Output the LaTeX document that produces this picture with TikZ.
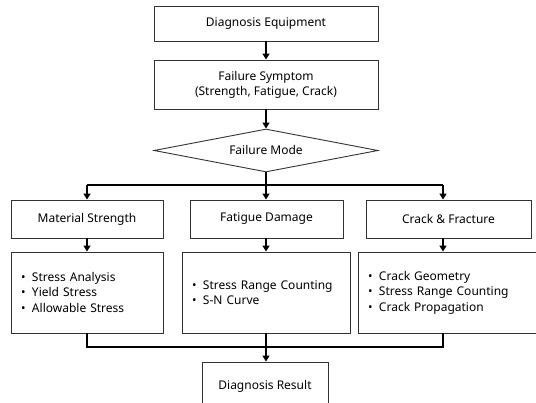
\documentclass[tikz,border=0pt]{standalone}
\usepackage{fontspec}
\setmainfont{Noto Sans}
\usetikzlibrary{arrows.meta,shapes.geometric}
\newcommand\bul{\makebox[11pt][l]{•}}
\begin{document}
\begin{tikzpicture}[x=1pt,y=-1pt,
  box/.style={draw=black!80, line width=0.9pt, fill=white, inner sep=0pt,
    font=\fontsize{12}{15}\selectfont, align=center},
  listbox/.style={box, align=left, inner xsep=10pt, inner ysep=0pt,
    font=\fontsize{12}{15.5}\selectfont},
  conn/.style={line width=1.6pt, -{Triangle[width=7pt,length=6pt]}},
  plain/.style={line width=1.6pt}]
\useasboundingbox (0,0) rectangle (536,403);
\fill[white] (0,0) rectangle (536,403);

\node[box, minimum width=224pt, minimum height=35pt] (equip) at (266,23.5) {Diagnosis Equipment};
\node[box, minimum width=224pt, minimum height=49pt] (symp) at (266,84.5) {Failure Symptom\\(Strength, Fatigue, Crack)};
\node[box, shape=diamond, aspect=5.2, minimum width=224pt, minimum height=43pt] (mode) at (266,150.5) {Failure Mode};

\node[box, minimum width=152pt, minimum height=38pt] (mat) at (87,219) {Material Strength};
\node[box, minimum width=153pt, minimum height=38pt] (fat) at (266.5,219) {Fatigue Damage};
\node[box, minimum width=165pt, minimum height=38pt] (crack) at (448.5,219) {Crack \& Fracture};

\node[listbox, text width=132pt, minimum height=81pt] (matL) at (87,292.5)
  {\bul Stress Analysis\\\bul Yield Stress\\\bul Allowable Stress};
\node[listbox, text width=148pt, minimum height=81pt] (fatL) at (266,292.5)
  {\bul Stress Range Counting\\\bul S-N Curve};
\node[listbox, text width=162pt, minimum height=81pt] (crackL) at (449,292.5)
  {\bul Crack Geometry\\\bul Stress Range Counting\\\bul Crack Propagation};

\node[box, minimum width=126pt, minimum height=48pt] (res) at (265,386) {Diagnosis Result};

\coordinate (split) at (266,185);
\coordinate (sl) at (87,185);
\coordinate (sr) at (443,185);
\coordinate (jl) at (87,347);
\coordinate (jc) at (266,347);
\coordinate (jr) at (443,347);

\draw[conn] (equip) -- (symp);
\draw[conn] (symp) -- (mode);
\draw[plain] (mode.south) -- (split);
\draw[plain] (sl) -- (sr);
\draw[conn] (sl) -- (mat);
\draw[conn] (split) -- (split |- fat.north);
\draw[conn] (sr) -- (sr |- crack.north);

\draw[conn] (mat) -- (matL);
\draw[conn] (fat.south -| split) -- (split |- fatL.north);
\draw[conn] (crack.south -| sr) -- (sr |- crackL.north);

\draw[plain] (matL.south) -- (jl) -- (jr) -- (jr |- crackL.south);
\draw[plain] (jc |- fatL.south) -- (jc);
\draw[conn] (jc) -- (jc |- res.north);
\end{tikzpicture}
\end{document}
